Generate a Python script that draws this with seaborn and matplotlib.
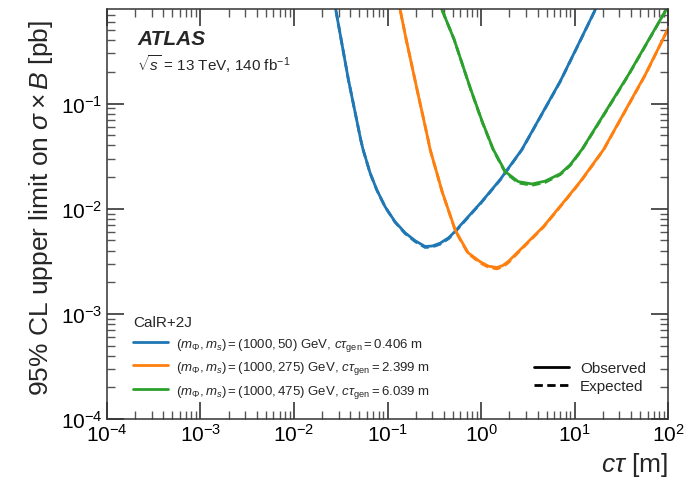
import numpy as np
import pandas as pd
import matplotlib
matplotlib.use("Agg")
import matplotlib.pyplot as plt
import seaborn as sns
from matplotlib.lines import Line2D
from matplotlib.ticker import LogLocator, NullFormatter

# ---------------- data ----------------
blue_ctau = [0.0243, 0.0279, 0.0381, 0.0516, 0.0547, 0.065, 0.0765, 0.094, 0.120, 0.154, 0.197,
             0.252, 0.30, 0.364, 0.45, 0.527, 0.595, 0.762, 1.0, 1.6, 2.72, 4.5, 7.0, 11.0, 16.6, 18.7]
blue_obs = [1.45, 0.785, 0.169, 0.0454, 0.0365, 0.0219, 0.0152, 0.01045, 0.00752, 0.0059, 0.00496,
            0.00437, 0.00442, 0.0047, 0.0053, 0.0061, 0.0069, 0.0088, 0.0115, 0.019, 0.0365, 0.081,
            0.163, 0.37, 0.785, 0.98]
blue_exp = [1.45, 0.785, 0.169, 0.0454, 0.0365, 0.0218, 0.0151, 0.0104, 0.00745, 0.0058, 0.00487,
            0.00428, 0.00433, 0.0046, 0.0052, 0.0060, 0.0068, 0.0087, 0.0114, 0.0188, 0.0363, 0.0805,
            0.162, 0.368, 0.78, 0.98]

orange_ctau = [0.106, 0.136, 0.158, 0.212, 0.271, 0.285, 0.383, 0.527, 0.595, 0.726, 0.975, 1.2,
               1.47, 1.7, 1.95, 2.61, 4.64, 8.26, 11.5, 20.3, 56.8, 100.0]
orange_obs = [2.2, 0.785, 0.407, 0.122, 0.0454, 0.0365, 0.01452, 0.00631, 0.00518, 0.00381, 0.00313,
              0.00284, 0.00276, 0.00288, 0.00315, 0.00407, 0.00678, 0.01265, 0.0182, 0.0365, 0.189,
              0.52]
orange_exp = [2.2, 0.785, 0.407, 0.122, 0.0454, 0.0365, 0.01445, 0.00625, 0.00510, 0.00374, 0.00306,
              0.00277, 0.00268, 0.00280, 0.00307, 0.00400, 0.00670, 0.0125, 0.0180, 0.0362, 0.187,
              0.52]

green_ctau = [0.33, 0.38, 0.514, 0.762, 1.026, 1.35, 1.81, 2.49, 3.49, 4.83, 7.0, 8.95, 11.9,
              21.2, 37.6, 95.0, 100.0]
green_obs = [1.09, 0.785, 0.407, 0.142, 0.0674, 0.0365, 0.0225, 0.0181, 0.0172, 0.0183, 0.0215,
             0.0262, 0.0365, 0.083, 0.189, 0.785, 0.84]
green_exp = [1.09, 0.785, 0.407, 0.141, 0.0668, 0.0360, 0.0221, 0.0176, 0.0167, 0.0178, 0.0211,
             0.0258, 0.0361, 0.082, 0.187, 0.78, 0.84]

labels = [r"$(m_{\Phi}, m_{s})=(1000, 50)$ GeV, $c\tau_{\mathrm{gen}}=0.406$ m",
          r"$(m_{\Phi}, m_{s})=(1000, 275)$ GeV, $c\tau_{\mathrm{gen}}=2.399$ m",
          r"$(m_{\Phi}, m_{s})=(1000, 475)$ GeV, $c\tau_{\mathrm{gen}}=6.039$ m"]
colors = ["#1f77b4", "#ff7f0e", "#2ca02c"]

# ---------------- style ----------------
sns.set_style("ticks")
plt.rcParams["font.family"] = ["Liberation Sans", "DejaVu Sans"]
plt.rcParams["mathtext.fontset"] = "custom"
plt.rcParams["mathtext.rm"] = "Liberation Sans"
plt.rcParams["mathtext.it"] = "Liberation Sans:italic"
plt.rcParams["mathtext.bf"] = "Liberation Sans:bold"
plt.rcParams["mathtext.sf"] = "Liberation Sans"

fig = plt.figure(figsize=(6.94, 4.85), dpi=100)
ax = fig.add_axes([0.154, 0.134, 0.809, 0.845])

dash = (0, (3, 1.6))
series = [(blue_ctau, blue_obs, blue_exp), (orange_ctau, orange_obs, orange_exp),
          (green_ctau, green_obs, green_exp)]
for (xs, obs, exp), c in zip(series, colors):
    df = pd.DataFrame({"ctau": xs, "obs": obs, "exp": exp})
    sns.lineplot(data=df, x="ctau", y="exp", ax=ax, color=c, lw=2.0, estimator=None, sort=False,
                 linestyle=dash)
    sns.lineplot(data=df, x="ctau", y="obs", ax=ax, color=c, lw=2.0, estimator=None, sort=False)

ax.set_xscale("log")
ax.set_yscale("log")
ax.set_xlim(1e-4, 1e2)
ax.set_ylim(1e-4, 0.79)

for s in ax.spines.values():
    s.set_linewidth(1.1)
    s.set_color("#333333")
ax.xaxis.set_minor_locator(LogLocator(base=10, subs=tuple(range(2, 10)), numticks=100))
ax.xaxis.set_minor_formatter(NullFormatter())
ax.yaxis.set_minor_locator(LogLocator(base=10, subs=tuple(range(2, 10)), numticks=100))
ax.yaxis.set_minor_formatter(NullFormatter())
ax.tick_params(which="both", direction="in", top=True, right=True, color="#444444",
               labelcolor="black", labelsize=15)
ax.tick_params(which="major", length=12, width=1.3)
ax.tick_params(which="minor", length=6, width=1.0, color="#555555")
ax.tick_params(axis="x", pad=3)
ax.tick_params(axis="y", pad=3)

ax.set_xlabel(r"$c\tau$ [m]", fontsize=19, ha="right")
ax.xaxis.set_label_coords(1.0, -0.075)
ax.set_ylabel(r"95% CL upper limit on $\sigma\times B$ [pb]", fontsize=19, ha="right")
ax.yaxis.set_label_coords(-0.092, 0.975)

ax.text(0.054, 0.928, "ATLAS", transform=ax.transAxes, fontsize=15, fontweight="bold",
        fontstyle="italic", va="center")
ax.text(0.054, 0.868, r"$\sqrt{s}$ = 13 TeV, 140 fb$^{-1}$", transform=ax.transAxes,
        fontsize=11, va="center")

handles = [Line2D([], [], color=c, lw=2) for c in colors]
leg1 = ax.legend(handles, labels, title="CalR+2J", loc="lower left", bbox_to_anchor=(0.025, 0.018),
                 frameon=False, fontsize=9.5, title_fontsize=11, handlelength=2.7,
                 handletextpad=0.55, labelspacing=0.5, alignment="left")
ax.add_artist(leg1)
h2 = [Line2D([], [], color="black", lw=2), Line2D([], [], color="black", lw=2, linestyle=dash)]
ax.legend(h2, ["Observed", "Expected"], loc="lower right", bbox_to_anchor=(0.985, 0.03),
          frameon=False, fontsize=11, handlelength=2.3, handletextpad=0.7, labelspacing=0.25)

fig.savefig("out.png", dpi=100)
